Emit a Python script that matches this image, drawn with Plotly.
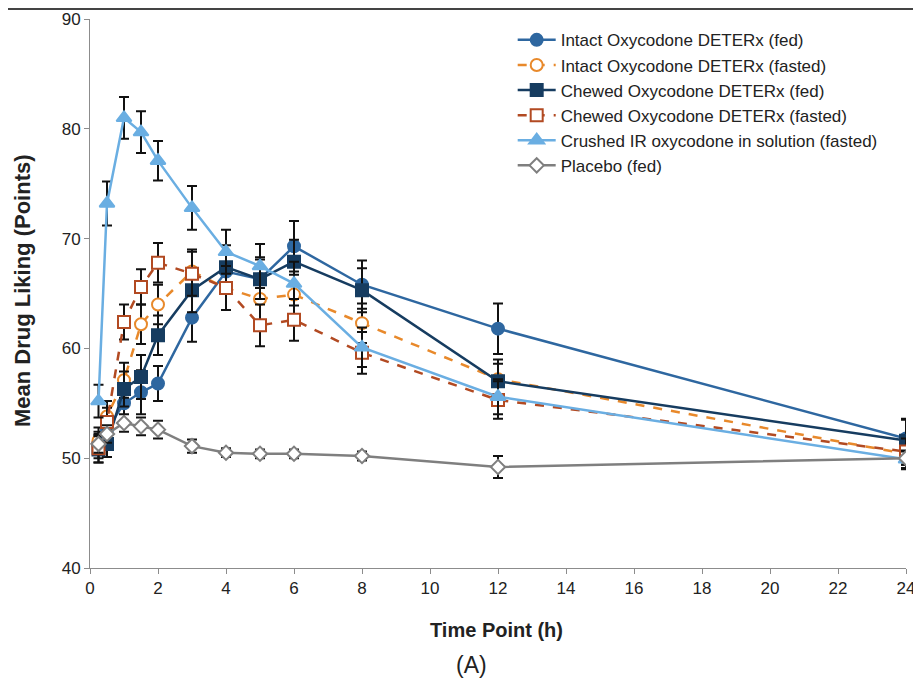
import plotly.graph_objects as go

times = [0.25, 0.5, 1, 1.5, 2, 3, 4, 5, 6, 8, 12, 24]

intact_fed = [51.2, 52.6, 55.0, 56.0, 56.8, 62.8, 67.0, 66.3, 69.3, 65.8, 61.8, 51.8]
intact_fed_se = [1.2, 1.2, 1.6, 2.0, 1.6, 2.2, 1.8, 2.0, 2.3, 2.2, 2.3, 1.8]

intact_fasted = [51.6, 53.8, 57.1, 62.2, 64.0, 67.0, 65.5, 64.5, 64.9, 62.3, 57.2, 50.4]
intact_fasted_se = [1.2, 1.4, 1.6, 1.8, 1.8, 2.0, 2.0, 2.0, 1.8, 1.8, 1.8, 1.4]

chewed_fed = [50.8, 51.3, 56.3, 57.4, 61.2, 65.3, 67.4, 66.3, 67.9, 65.3, 57.0, 51.6]
chewed_fed_se = [1.2, 1.2, 1.6, 2.0, 1.8, 2.0, 2.0, 1.8, 2.0, 2.0, 1.6, 1.9]

chewed_fasted = [50.9, 53.3, 62.4, 65.6, 67.8, 66.8, 65.5, 62.1, 62.6, 59.6, 55.3, 50.6]
chewed_fasted_se = [1.3, 1.3, 1.6, 1.6, 1.8, 2.0, 2.0, 1.9, 1.9, 1.9, 1.7, 1.2]

crushed = [55.2, 73.2, 81.0, 79.7, 77.1, 72.8, 68.8, 67.5, 65.9, 60.1, 55.6, 49.9]
crushed_se = [1.5, 2.0, 1.9, 1.9, 1.8, 2.0, 2.0, 2.0, 2.0, 1.8, 1.6, 0.8]

placebo = [51.3, 52.2, 53.2, 52.9, 52.6, 51.1, 50.5, 50.4, 50.4, 50.2, 49.2, 50.0]
placebo_se = [0.8, 0.8, 0.8, 0.8, 0.8, 0.6, 0.4, 0.4, 0.4, 0.4, 1.0, 0.6]

series = [
    ("Intact Oxycodone DETERx (fed)", intact_fed, intact_fed_se, "#2E67A0", "solid", "circle", False, 12),
    ("Intact Oxycodone DETERx (fasted)", intact_fasted, intact_fasted_se, "#E8892B", "dash", "circle", True, 12),
    ("Chewed Oxycodone DETERx (fed)", chewed_fed, chewed_fed_se, "#163C60", "solid", "square", False, 12),
    ("Chewed Oxycodone DETERx (fasted)", chewed_fasted, chewed_fasted_se, "#B24A22", "dash", "square", True, 12),
    ("Crushed IR oxycodone in solution (fasted)", crushed, crushed_se, "#6AAEE2", "solid", "triangle-up", False, 13),
    ("Placebo (fed)", placebo, placebo_se, "#7F7F7F", "solid", "diamond", True, 11),
]

fig = go.Figure()
for name, vals, se, color, dash, sym, hollow, size in series:
    fig.add_trace(go.Scatter(
        x=times, y=vals, name=name, mode="lines+markers",
        line=dict(color=color, width=2.5, dash=dash),
        marker=dict(symbol=sym, size=size,
                    color="white" if hollow else color,
                    line=dict(color=color, width=2)),
        error_y=dict(type="data", array=se, visible=True,
                     color="#111111", thickness=2, width=5),
    ))

FONT = "Liberation Sans Narrow, Liberation Sans, Arial, sans-serif"

fig.update_layout(
    width=913, height=678,
    margin=dict(l=82, r=15, t=11, b=118, autoexpand=False),
    paper_bgcolor="white", plot_bgcolor="white",
    font=dict(family=FONT, color="#222222"),
    showlegend=True,
    legend=dict(x=0.518, y=0.994, xanchor="left", yanchor="top",
                font=dict(family="Liberation Sans, Arial, sans-serif", size=17, color="#222222"),
                bgcolor="rgba(255,255,255,0)", itemwidth=38, tracegroupgap=0),
    xaxis=dict(range=[0, 24], dtick=2, tick0=0, showgrid=False, zeroline=False,
               automargin=False,
               showline=True, linecolor="#8C8C8C", linewidth=1,
               ticks="outside", ticklen=5, tickcolor="#8C8C8C",
               tickfont=dict(family=FONT, size=17, color="#222222")),
    yaxis=dict(range=[40, 90], dtick=10, tick0=40, showgrid=False, zeroline=False,
               automargin=False,
               showline=True, linecolor="#8C8C8C", linewidth=1,
               ticks="outside", ticklen=5, tickcolor="#8C8C8C",
               tickfont=dict(family=FONT, size=17, color="#222222")),
    annotations=[
        dict(text="<b>Mean Drug Liking (Points)</b>", xref="paper", yref="paper",
             x=-0.083, y=0.505, textangle=-90, showarrow=False,
             xanchor="center", yanchor="middle",
             font=dict(family="Liberation Sans, Arial, sans-serif", size=22, color="#222222")),
        dict(text="<b>Time Point (h)</b>", xref="paper", yref="paper",
             x=0.498, y=-0.113, showarrow=False, xanchor="center", yanchor="middle",
             font=dict(family=FONT, size=20, color="#222222")),
        dict(text="(A)", xref="paper", yref="paper",
             x=0.468, y=-0.177, showarrow=False, xanchor="center", yanchor="middle",
             font=dict(family=FONT, size=23, color="#222222")),
    ],
    shapes=[
        dict(type="line", xref="paper", yref="paper", x0=-0.11, x1=1.02,
             y0=1.0185, y1=1.0185, line=dict(color="#444444", width=2.5)),
    ],
)

fig.write_html("out.html")
